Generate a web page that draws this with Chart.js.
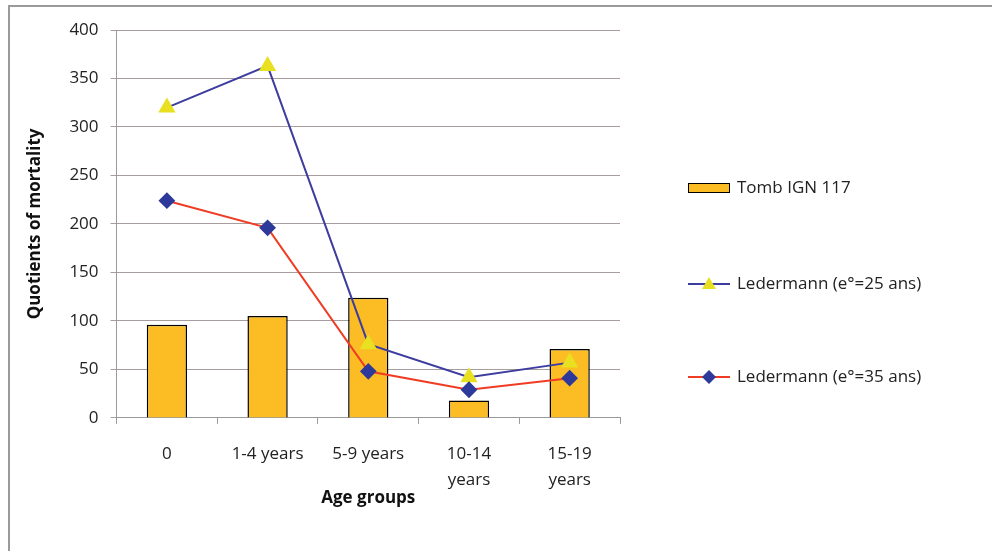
<!DOCTYPE html>
<html>
<head>
<meta charset="utf-8">
<script src="https://cdn.jsdelivr.net/npm/chart.js@4/dist/chart.umd.min.js"></script>
<style>
  html, body { margin: 0; padding: 0; background: #fff; }
  #wrap { position: absolute; left: 0; top: 0; width: 992px; height: 551px; }
  #frame { position: absolute; left: 8px; top: 5px; width: 990px; height: 560px;
           border-left: 2px solid #9a9a9a; border-top: 2px solid #9a9a9a; pointer-events: none; }
</style>
</head>
<body>
<div id="wrap">
  <canvas id="chart" width="992" height="551"></canvas>
  <div id="frame"></div>
</div>
<script>
const categories = ["0", "1-4 years", "5-9 years", ["10-14", "years"], ["15-19", "years"]];
const tombValues = [96, 105, 124, 18, 71];
const led25Values = [320, 363, 76, 42, 57];
const led35Values = [224, 196, 48, 29, 41];
const seriesLabels = ["Tomb IGN 117", "Ledermann (e°=25 ans)", "Ledermann (e°=35 ans)"];

const FONT = "'Open Sans', sans-serif";

// legend drawn by hand so the spacing and line+marker swatches look like the original
const sideLegend = {
    id: 'sideLegend',
    afterDraw(chart) {
        const ctx = chart.ctx;
        const x0 = 688, rows = [188, 284, 377];
        ctx.save();
        ctx.font = "17px " + FONT;
        ctx.textBaseline = "middle";
        chart.data.datasets.forEach((ds, i) => {
            const y = rows[i];
            if (ds.type === 'bar') {
                ctx.fillStyle = ds.backgroundColor;
                ctx.fillRect(x0, y - 5, 42, 10);
                ctx.strokeStyle = "#000";
                ctx.lineWidth = 1;
                ctx.strokeRect(x0 + 0.5, y - 4.5, 41, 9);
            } else {
                ctx.strokeStyle = ds.borderColor;
                ctx.lineWidth = 2;
                ctx.beginPath();
                ctx.moveTo(x0, y);
                ctx.lineTo(x0 + 42, y);
                ctx.stroke();
                ctx.fillStyle = ds.pointBackgroundColor;
                ctx.beginPath();
                if (ds.pointStyle === 'triangle') {
                    ctx.moveTo(x0 + 21, y - 7);
                    ctx.lineTo(x0 + 28, y + 5);
                    ctx.lineTo(x0 + 14, y + 5);
                } else {
                    ctx.moveTo(x0 + 21, y - 7);
                    ctx.lineTo(x0 + 28, y);
                    ctx.lineTo(x0 + 21, y + 7);
                    ctx.lineTo(x0 + 14, y);
                }
                ctx.closePath();
                ctx.fill();
            }
            ctx.fillStyle = "#222";
            ctx.fillText(ds.label, x0 + 49, y);
        });
        ctx.restore();
    }
};

new Chart(document.getElementById("chart").getContext("2d"), {
    data: {
        labels: categories,
        datasets: [
            {
                type: 'bar',
                label: seriesLabels[0],
                data: tombValues,
                backgroundColor: "#fcbc24",
                borderColor: "#000",
                borderWidth: 1.5,
                barPercentage: 0.4,
                categoryPercentage: 1,
                order: 2
            },
            {
                type: 'line',
                label: seriesLabels[1],
                data: led25Values,
                borderColor: "#3d3da0",
                borderWidth: 2,
                pointStyle: 'triangle',
                pointRadius: 8,
                pointBackgroundColor: "#e8e020",
                pointBorderColor: "#e8e020",
                order: 1
            },
            {
                type: 'line',
                label: seriesLabels[2],
                data: led35Values,
                borderColor: "#f03c24",
                borderWidth: 2,
                pointStyle: 'rectRot',
                pointRadius: 7,
                pointBackgroundColor: "#2e3a9a",
                pointBorderColor: "#2e3a9a",
                order: 0
            }
        ]
    },
    options: {
        responsive: false,
        animation: false,
        layout: { padding: { left: 21, right: 372, top: 30, bottom: 39 } },
        plugins: {
            legend: { display: false },
            tooltip: { enabled: false }
        },
        scales: {
            x: {
                offset: true,
                grid: { offset: true, drawOnChartArea: false, drawTicks: true, tickLength: 6, color: "#9a9a9a" },
                border: { color: "#9a9a9a" },
                ticks: { color: "#222", font: { family: FONT, size: 17, lineHeight: 1.55 }, padding: 17, maxRotation: 0 },
                title: { display: true, text: "Age groups", color: "#111", font: { family: FONT, size: 17, weight: 'bold' }, padding: { top: -23 } }
            },
            y: {
                min: 0,
                max: 400,
                ticks: { stepSize: 50, color: "#222", font: { family: FONT, size: 17 }, padding: 12 },
                grid: { color: "#a89c9c", tickLength: 6 },
                border: { color: "#9a9a9a" },
                title: { display: true, text: "Quotients of mortality", color: "#111", font: { family: FONT, size: 17, weight: 'bold' }, padding: { bottom: 12 } }
            }
        }
    },
    plugins: [sideLegend]
});
</script>
</body>
</html>
